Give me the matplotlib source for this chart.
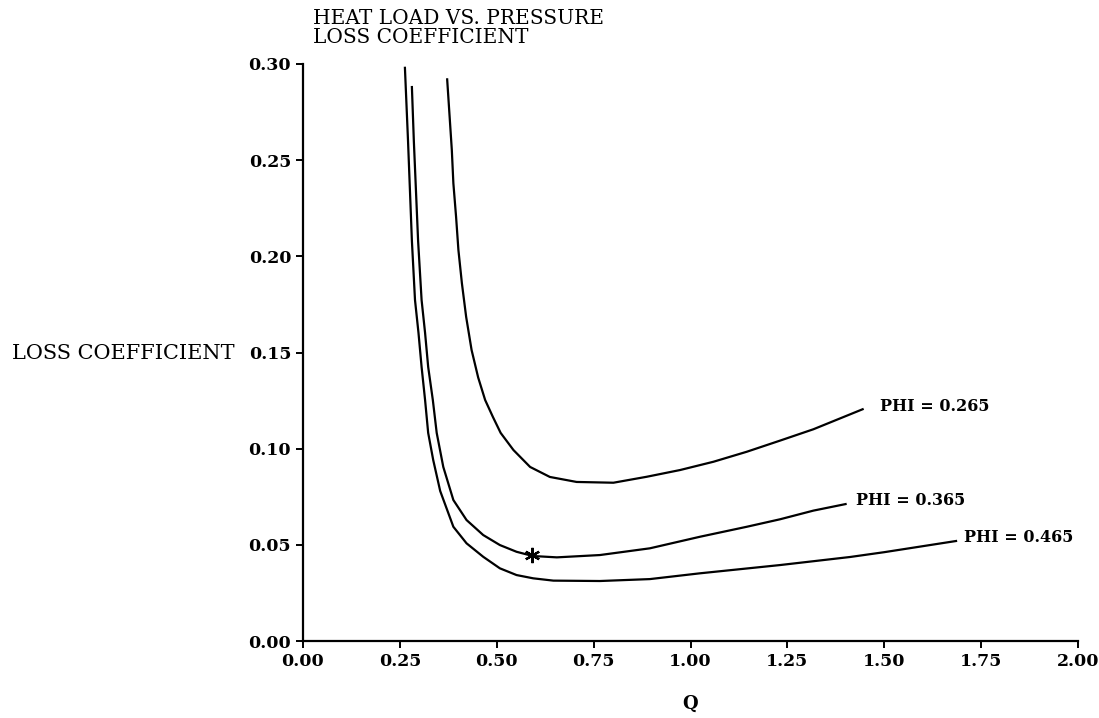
import matplotlib
matplotlib.use("Agg")
import matplotlib.pyplot as plt

# values
q_265 = [0.372, 0.384, 0.388, 0.395, 0.401, 0.410, 0.421, 0.435, 0.452, 0.470, 0.490, 0.510, 0.543,
         0.586, 0.637, 0.706, 0.801, 0.887, 0.973, 1.059, 1.145, 1.231, 1.317, 1.444]
l_265 = [0.292, 0.2553, 0.238, 0.2205, 0.2033, 0.186, 0.1685, 0.1513, 0.137, 0.1253, 0.1165, 0.1082, 0.0993,
         0.0905, 0.0853, 0.0827, 0.0823, 0.0854, 0.0889, 0.0932, 0.0984, 0.1042, 0.1101, 0.1205]

q_365 = [0.281, 0.286, 0.297, 0.306, 0.315, 0.323, 0.335, 0.345, 0.362, 0.388, 0.422, 0.465, 0.508,
         0.551, 0.593, 0.655, 0.766, 0.895, 1.024, 1.145, 1.231, 1.317, 1.400]
l_365 = [0.288, 0.260, 0.208, 0.1773, 0.1602, 0.1425, 0.1253, 0.1082, 0.0905, 0.0733, 0.0629, 0.0551, 0.0499,
         0.0464, 0.0442, 0.0435, 0.0447, 0.0482, 0.0542, 0.0594, 0.0633, 0.0678, 0.0712]

q_465 = [0.263, 0.271, 0.281, 0.289, 0.298, 0.306, 0.315, 0.323, 0.336, 0.354, 0.388, 0.422, 0.465,
         0.508, 0.551, 0.594, 0.646, 0.766, 0.895, 1.024, 1.231, 1.412, 1.500, 1.685]
l_465 = [0.298, 0.260, 0.208, 0.1773, 0.1602, 0.1425, 0.1253, 0.1082, 0.0941, 0.078, 0.0594, 0.0508, 0.0438,
         0.0378, 0.0343, 0.0326, 0.0314, 0.0312, 0.0322, 0.0352, 0.0395, 0.0437, 0.0462, 0.052]

star_q, star_l = 0.591, 0.0445

labels = ["PHI = 0.265", "PHI = 0.365", "PHI = 0.465"]
label_pos = [(1.489, 0.1217), (1.427, 0.0728), (1.706, 0.0536)]

xticks = [0, 0.25, 0.5, 0.75, 1.0, 1.25, 1.5, 1.75, 2.0]
yticks = [0, 0.05, 0.10, 0.15, 0.20, 0.25, 0.30]

plt.rcParams['font.family'] = ['DejaVu Serif']

fig = plt.figure(figsize=(10.99, 7.18), dpi=100)
ax = fig.add_axes([0.2757, 0.1072, 0.7053, 0.8037])

for q, l in [(q_265, l_265), (q_365, l_365), (q_465, l_465)]:
    ax.plot(q, l, color='black', linewidth=1.6, solid_joinstyle='round')

# the marked design point
ax.plot(star_q, star_l, marker=(6, 2, 0), markersize=11, markeredgewidth=1.6, color='black')

for txt, (x, y) in zip(labels, label_pos):
    ax.text(x, y, txt, fontsize=11.5, fontweight='bold', ha='left', va='center')

ax.set_xlim(0, 2.0)
ax.set_ylim(0, 0.30)
ax.set_xticks(xticks)
ax.set_yticks(yticks)
ax.xaxis.set_major_formatter(matplotlib.ticker.FormatStrFormatter('%.2f'))
ax.yaxis.set_major_formatter(matplotlib.ticker.FormatStrFormatter('%.2f'))
for lab in ax.get_xticklabels() + ax.get_yticklabels():
    lab.set_fontweight('bold')
ax.tick_params(labelsize=12.5, length=5, width=1.4, direction='out')
ax.spines['top'].set_visible(False)
ax.spines['right'].set_visible(False)
ax.spines['left'].set_linewidth(1.6)
ax.spines['bottom'].set_linewidth(1.6)

ax.set_xlabel('Q', fontsize=13, fontweight='bold', labelpad=18)
fig.text(0.011, 0.508, 'LOSS COEFFICIENT', fontsize=15, ha='left', va='center')
fig.text(0.285, 0.988, 'HEAT LOAD VS. PRESSURE\nLOSS COEFFICIENT', fontsize=14.5,
         ha='left', va='top', linespacing=1.05)

fig.savefig('out.png', dpi=100)
